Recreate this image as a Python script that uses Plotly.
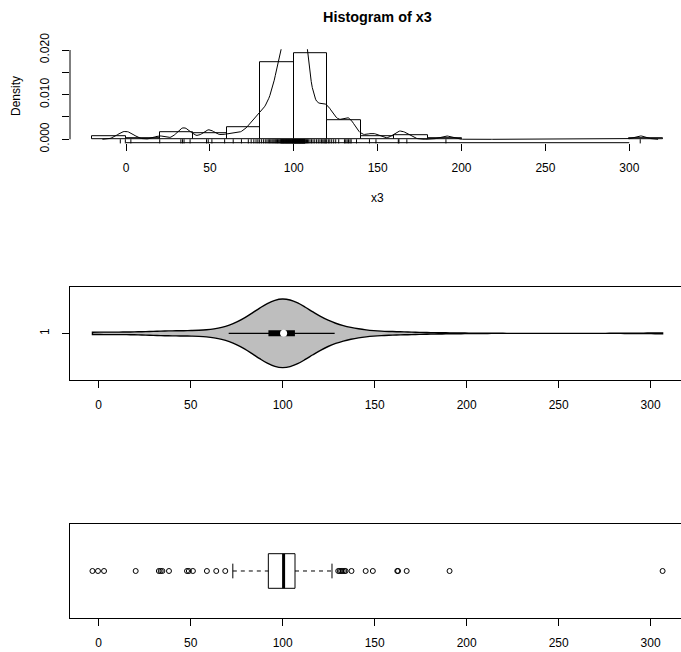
import numpy as np
import plotly.graph_objects as go

# ---- data ----
low_outliers = [-3.4, -0.4, 2.9, 20.1, 32.7, 33.7, 34.6, 38.2, 48.0, 49.0,
                51.2, 58.8, 63.9, 68.8]
core_values = [72.9, 74.6, 76.2, 77.5, 78.6, 79.5,
               80.7, 81.9, 83.0, 84.0, 84.8, 85.6, 86.3, 87.0, 87.6, 88.2,
               88.8, 89.3, 89.8, 90.3, 90.8, 91.3, 91.8,
               92.2,
               92.4, 92.7, 92.9, 93.2, 93.4, 93.6, 93.9, 94.1, 94.3, 94.6,
               94.8, 95.0, 95.3, 95.5, 95.7, 96.0, 96.2, 96.4, 96.7, 96.9,
               97.1, 97.4, 97.6, 97.8, 98.1, 98.3, 98.5, 98.8, 99.0, 99.2,
               99.4, 99.6, 99.8, 99.9,
               100.1, 100.2, 100.4, 100.6, 100.7, 100.9, 101.0, 101.2, 101.4,
               101.5, 101.7, 101.9, 102.0, 102.2, 102.4, 102.5, 102.7, 102.9,
               103.0, 103.2, 103.4, 103.5, 103.7, 103.9, 104.0, 104.2, 104.4,
               104.5, 104.7, 104.9, 105.0, 105.2, 105.4, 105.5, 105.7, 105.9,
               106.0, 106.2, 106.4, 106.5,
               106.7,
               107.1, 107.6, 108.2, 108.9, 109.7, 110.6, 111.5, 112.5, 113.6,
               114.6, 115.6, 116.5, 117.3, 118.0, 118.6, 119.1, 119.6,
               120.6, 121.5, 122.6, 123.8, 125.0, 126.8]
high_outliers = [130.2, 131.0, 131.8, 132.6, 133.5, 134.2, 137.4, 145.1, 149.0,
                 162.3, 162.7, 167.4, 190.7, 306.5]

hist_start, hist_end, hist_size = -20, 320, 20
x_ticks = [0, 50, 100, 150, 200, 250, 300]
density_ticks = [0.0, 0.005, 0.010, 0.015, 0.020]
density_labels = ["0.000", "", "0.010", "", "0.020"]
violin_label = "1"

x3 = np.array(low_outliers + core_values + high_outliers, dtype=float)
n = len(x3)

# ---- statistics (as R computes them) ----
p25, p75 = np.percentile(x3, [25, 75])
bw = 0.9 * min(x3.std(ddof=1), (p75 - p25) / 1.34) * n ** -0.2   # bw.nrd0
grid = np.linspace(x3.min() - 3 * bw, x3.max() + 3 * bw, 512)
dens = np.exp(-0.5 * ((grid[:, None] - x3[None, :]) / bw) ** 2).sum(1) / (n * bw * np.sqrt(2 * np.pi))

xs = np.sort(x3)
def fivenum(v):
    m = len(v)
    n4 = np.floor((m + 3) / 2) / 2
    d = np.array([1, n4, (m + 1) / 2, m + 1 - n4, m]) - 1
    return 0.5 * (v[np.floor(d).astype(int)] + v[np.ceil(d).astype(int)])
fn = fivenum(xs)
h1, med, h3 = fn[1], fn[2], fn[3]
iqr = h3 - h1
inside = xs[(xs >= h1 - 1.5 * iqr) & (xs <= h3 + 1.5 * iqr)]
wlo, whi = inside.min(), inside.max()
outl = xs[(xs < wlo) | (xs > whi)]

# vioplot stats
v_lo = max(p25 - 1.5 * (p75 - p25), xs.min())
v_hi = min(p75 + 1.5 * (p75 - p25), xs.max())
h_sm = x3.std(ddof=1) * (4 / (3 * n)) ** 0.2

BLACK = "black"
fig = go.Figure()

# ---- panel 1: histogram ----
fig.add_trace(go.Histogram(
    x=x3, xbins=dict(start=hist_start, end=hist_end, size=hist_size),
    histnorm="probability density",
    marker=dict(color="white", line=dict(color=BLACK, width=1)),
    xaxis="x", yaxis="y"))
fig.add_trace(go.Scatter(x=grid, y=dens, mode="lines",
                         line=dict(color=BLACK, width=1), xaxis="x", yaxis="y"))
fig.add_trace(go.Scatter(x=x3, y=[-0.00045] * n, mode="markers", cliponaxis=False,
                         marker=dict(symbol="line-ns", size=3, color=BLACK,
                                     line=dict(color=BLACK, width=1)),
                         xaxis="x", yaxis="y"))

# ---- panel 2: violin ----
fig.add_trace(go.Violin(
    x=x3, y0=1, orientation="h", side="both", spanmode="hard",
    bandwidth=h_sm, width=0.794, scalemode="width",
    fillcolor="#BEBEBE", line=dict(color=BLACK, width=1.4),
    points=False, box_visible=False, meanline_visible=False,
    xaxis="x2", yaxis="y2"))
fig.add_trace(go.Scatter(x=[v_lo, v_hi], y=[1, 1], mode="lines",
                         line=dict(color=BLACK, width=1.3), xaxis="x2", yaxis="y2"))
fig.add_trace(go.Scatter(x=[p25, p75], y=[1, 1], mode="lines",
                         line=dict(color=BLACK, width=6), xaxis="x2", yaxis="y2"))
fig.add_trace(go.Scatter(x=[np.median(x3)], y=[1], mode="markers",
                         marker=dict(color="white", size=7), xaxis="x2", yaxis="y2"))

# ---- panel 3: boxplot ----
bh = 0.2
sh = 0.085
fig.add_trace(go.Scatter(x=[h1, h3, h3, h1, h1], y=[1 - bh, 1 - bh, 1 + bh, 1 + bh, 1 - bh],
                         mode="lines", fill="toself", fillcolor="white",
                         line=dict(color=BLACK, width=1), xaxis="x3", yaxis="y3"))
fig.add_trace(go.Scatter(x=[med, med], y=[1 - bh, 1 + bh], mode="lines",
                         line=dict(color=BLACK, width=3), xaxis="x3", yaxis="y3"))
fig.add_trace(go.Scatter(x=[wlo, h1, None, h3, whi], y=[1, 1, None, 1, 1], mode="lines",
                         line=dict(color=BLACK, width=1, dash="4px,4px"), xaxis="x3", yaxis="y3"))
fig.add_trace(go.Scatter(x=[wlo, wlo, None, whi, whi], y=[1 - sh, 1 + sh, None, 1 - sh, 1 + sh],
                         mode="lines", line=dict(color=BLACK, width=1), xaxis="x3", yaxis="y3"))
fig.add_trace(go.Scatter(x=outl, y=[1] * len(outl), mode="markers",
                         marker=dict(symbol="circle-open", size=5, color=BLACK,
                                     line=dict(color=BLACK, width=1)),
                         xaxis="x3", yaxis="y3"))

W, H = 681, 652
def fx(px): return px / W
def fy(py): return 1 - py / H

font = dict(family="Liberation Sans, Arial, sans-serif", size=12, color=BLACK)
xdom = [fx(70), 1]
common_x = dict(tickvals=x_ticks, ticks="outside", ticklen=7, tickwidth=1, tickcolor=BLACK,
                showgrid=False, zeroline=False, tickfont=font, ticklabelstandoff=7,
                automargin=False)

fig.update_layout(
    template="none",
    width=W, height=H, autosize=False,
    margin=dict(l=0, r=0, t=0, b=0, pad=0),
    paper_bgcolor="white", plot_bgcolor="white",
    showlegend=False, bargap=0, font=font,
    xaxis=dict(domain=xdom, anchor="y", range=[-33.38, 330.81], showline=False, **common_x),
    yaxis=dict(domain=[fy(142.7), fy(49.2)], anchor="x", range=[-0.00076, 0.02018],
               tickvals=density_ticks, ticktext=density_labels, tickangle=-90,
               ticks="outside", ticklen=7, tickwidth=1, tickcolor=BLACK,
               showgrid=False, zeroline=False, showline=False, tickfont=font,
               ticklabelstandoff=8, automargin=False),
    xaxis2=dict(domain=xdom, anchor="y2", range=[-15.6, 316.5], showline=True, mirror=True,
                linecolor=BLACK, linewidth=1, **common_x),
    yaxis2=dict(domain=[fy(380), fy(286.7)], anchor="x2", range=[0.46, 1.54],
                tickvals=[1], ticktext=[violin_label], tickangle=-90,
                ticks="outside", ticklen=7, tickwidth=1, tickcolor=BLACK,
                showgrid=False, zeroline=False, showline=True, mirror=False,
                linecolor=BLACK, linewidth=1, tickfont=font, ticklabelstandoff=8,
                automargin=False),
    xaxis3=dict(domain=xdom, anchor="y3", range=[-15.6, 316.5], showline=True, mirror=True,
                linecolor=BLACK, linewidth=1, **common_x),
    yaxis3=dict(domain=[fy(617.7), fy(524.3)], anchor="x3", range=[0.46, 1.54],
                showticklabels=False, ticks="", showgrid=False, zeroline=False,
                showline=True, mirror=False, linecolor=BLACK, linewidth=1,
                automargin=False),
    shapes=[
        dict(type="line", xref="x", yref="y domain", x0=x_ticks[0], x1=x_ticks[-1], y0=0, y1=0,
             line=dict(color=BLACK, width=1)),
        dict(type="line", xref="x domain", yref="y", x0=0, x1=0,
             y0=density_ticks[0], y1=density_ticks[-1], line=dict(color=BLACK, width=1)),
    ],
    annotations=[
        dict(text="<b>Histogram of x3</b>", xref="paper", yref="paper",
             x=fx(377.7), y=fy(16.5), showarrow=False, xanchor="center", yanchor="middle",
             font=dict(family=font["family"], size=14.4, color=BLACK)),
        dict(text="Density", xref="paper", yref="paper", x=fx(16), y=fy(96),
             showarrow=False, textangle=-90, xanchor="center", yanchor="middle", font=font),
        dict(text="x3", xref="paper", yref="paper", x=fx(377.7), y=fy(198),
             showarrow=False, xanchor="center", yanchor="middle", font=font),
    ],
)

fig.write_html("out.html", config={"displayModeBar": False},
               post_script="document.body.style.margin='0';document.body.style.overflow='hidden';")
